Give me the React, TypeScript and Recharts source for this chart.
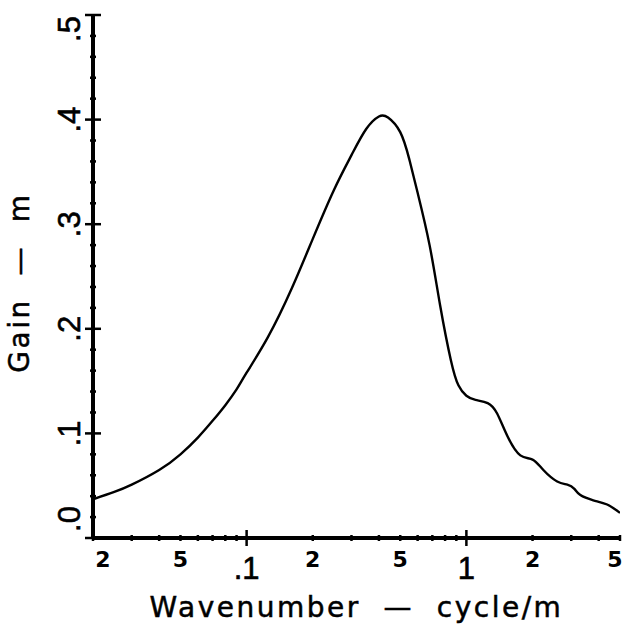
import { LineChart, Line, XAxis, YAxis, Label } from 'recharts'

// wavenumber (cycle/m) and gain (m)
const wavenumber = [
  0.02, 0.025, 0.03, 0.04, 0.05, 0.06, 0.07, 0.08, 0.09, 0.1,
  0.125, 0.16, 0.2, 0.25, 0.3, 0.35, 0.4, 0.44, 0.5, 0.55,
  0.6, 0.68, 0.76, 0.85, 0.92, 1.0, 1.1, 1.25, 1.38, 1.54,
  1.76, 2.0, 2.24, 2.59, 2.88, 3.1, 3.3, 3.78, 4.37, 5.0,
]
const gain = [
  0.037, 0.044, 0.051, 0.065, 0.08, 0.096, 0.112, 0.127, 0.142, 0.158,
  0.192, 0.238, 0.286, 0.333, 0.366, 0.391, 0.403, 0.402, 0.388, 0.362,
  0.33, 0.28, 0.222, 0.17, 0.146, 0.136, 0.132, 0.129, 0.119, 0.097,
  0.079, 0.075, 0.065, 0.054, 0.051, 0.047, 0.041, 0.036, 0.032, 0.024,
]

const xTicks = [
  0.02, 0.03, 0.04, 0.05, 0.06, 0.07, 0.08, 0.09,
  0.1, 0.2, 0.3, 0.4, 0.5, 0.6, 0.7, 0.8, 0.9,
  1, 2, 3, 4, 5,
]
const xMajor = [0.1, 1]
const xLabelValues = [0.02, 0.05, 0.1, 0.2, 0.5, 1, 2, 5]
const xLabelText = ['2', '5', '.1', '2', '5', '1', '2', '5']

const yTicks = [
  0, 0.02, 0.04, 0.06, 0.08, 0.1, 0.12, 0.14, 0.16, 0.18, 0.2, 0.22, 0.24,
  0.26, 0.28, 0.3, 0.32, 0.34, 0.36, 0.38, 0.4, 0.42, 0.44, 0.46, 0.48, 0.5,
]
const yMajor = [0, 0.1, 0.2, 0.3, 0.4, 0.5]
const yLabelText = ['.0', '.1', '.2', '.3', '.4', '.5']

const xTitle = 'Wavenumber\u00A0\u00A0—\u00A0\u00A0cycle/m'
const yTitle = 'Gain\u00A0\u00A0—\u00A0\u00A0m'

const data = wavenumber.map((k, i) => ({ k, gain: gain[i] }))

const bigDigits = {
  fontFamily: '"Liberation Sans", Arial, sans-serif',
  fontSize: 31,
  fill: '#000',
  stroke: '#000',
  strokeWidth: 0.6,
}
const smallDigits = { fontFamily: '"DejaVu Sans", sans-serif', fontSize: 22, fontWeight: 'bold', fill: '#000' }
const titleFont = {
  fontFamily: '"DejaVu Sans", sans-serif',
  fontSize: 28,
  letterSpacing: 2.5,
  fill: '#000',
  stroke: '#000',
  strokeWidth: 0.5,
}

function XTick(props: any) {
  const { x, y, payload } = props
  const v = payload.value
  const major = xMajor.includes(v)
  const len = major ? 8 : 3
  const li = xLabelValues.indexOf(v)
  // first and last labels pulled in from the edges
  let dx = 0
  if (li === 0) dx = 10
  if (li === xLabelValues.length - 1) dx = -5
  return (
    <g>
      <line x1={x} x2={x} y1={y - len} y2={y + len} stroke="#000" strokeWidth={2.5} />
      {li >= 0 && major && (
        <text x={x} y={y + 41} textAnchor="middle" {...bigDigits}>
          {xLabelText[li]}
        </text>
      )}
      {li >= 0 && !major && (
        <text x={x + dx} y={y + 29} textAnchor="middle" {...smallDigits}>
          {xLabelText[li]}
        </text>
      )}
    </g>
  )
}

function YTick(props: any) {
  const { x, y, payload } = props
  const v = payload.value
  const li = yMajor.indexOf(v)
  const len = li >= 0 ? 8 : 3
  // the end labels are nudged off the corners
  let ly = y
  if (v === 0) ly = y - 19
  if (v === 0.5) ly = y + 14
  const lx = x - 13
  return (
    <g>
      <line x1={x - len} x2={x + len} y1={y} y2={y} stroke="#000" strokeWidth={2.5} />
      {li >= 0 && (
        <text x={lx} y={ly} transform={`rotate(-90 ${lx} ${ly})`} textAnchor="middle" {...bigDigits}>
          {yLabelText[li]}
        </text>
      )}
    </g>
  )
}

function XTitle(props: any) {
  const vb = props.viewBox
  return (
    <text x={vb.x + vb.width / 2} y={vb.y + vb.height - 14} textAnchor="middle" {...titleFont}>
      {xTitle}
    </text>
  )
}

function YTitle(props: any) {
  const vb = props.viewBox
  const cx = 29
  const cy = vb.y + vb.height / 2 + 6
  return (
    <text x={cx} y={cy} transform={`rotate(-90 ${cx} ${cy})`} textAnchor="middle" {...titleFont}>
      {yTitle}
    </text>
  )
}

export default function App() {
  return (
    <div style={{ position: 'absolute', left: 0, top: 0, background: '#fff' }}>
      <LineChart width={626} height={631} data={data} margin={{ top: 15, right: 6, left: 0, bottom: 0 }}>
        <XAxis
          dataKey="k"
          type="number"
          scale="log"
          domain={[0.02, 5]}
          allowDataOverflow
          ticks={xTicks}
          interval={0}
          height={93}
          tickSize={0}
          tickMargin={0}
          tickLine={false}
          axisLine={{ stroke: '#000', strokeWidth: 4 }}
          tick={<XTick />}
          label={<Label content={<XTitle />} />}
        />
        <YAxis
          type="number"
          domain={[0, 0.5]}
          allowDataOverflow
          ticks={yTicks}
          interval={0}
          width={93}
          tickSize={0}
          tickMargin={0}
          tickLine={false}
          axisLine={{ stroke: '#000', strokeWidth: 4 }}
          tick={<YTick />}
          label={<Label content={<YTitle />} />}
        />
        <Line
          dataKey="gain"
          type="natural"
          stroke="#000"
          strokeWidth={2.4}
          dot={false}
          isAnimationActive={false}
        />
      </LineChart>
    </div>
  )
}
